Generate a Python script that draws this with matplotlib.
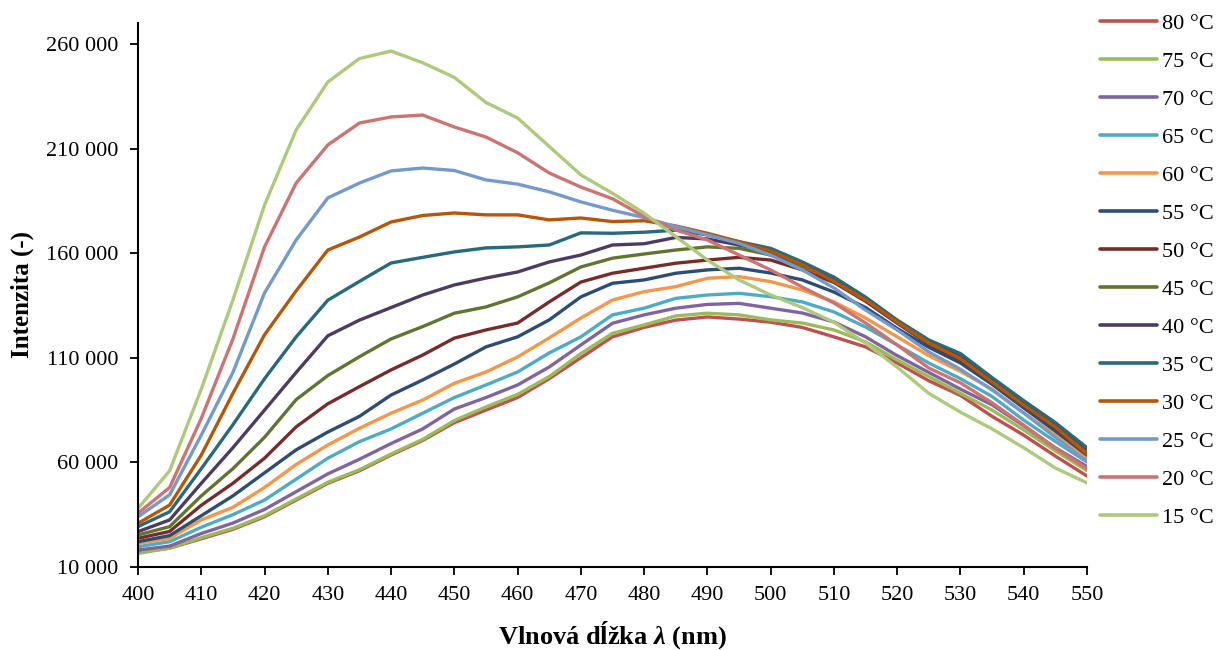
import matplotlib
matplotlib.use("Agg")
import matplotlib.pyplot as plt
from matplotlib.ticker import FuncFormatter, MultipleLocator

plt.rcParams['font.family'] = ['Liberation Serif', 'DejaVu Serif']
plt.rcParams['mathtext.fontset'] = 'custom'
plt.rcParams['mathtext.rm'] = 'Liberation Serif:bold'
plt.rcParams['mathtext.it'] = 'Liberation Serif:bold:italic'
plt.rcParams['mathtext.bf'] = 'Liberation Serif:bold'

wavelength = list(range(400, 551, 5))

labels = ["80 °C", "75 °C", "70 °C", "65 °C", "60 °C", "55 °C", "50 °C",
          "45 °C", "40 °C", "35 °C", "30 °C", "25 °C", "20 °C", "15 °C"]

colors = ["#C0504D", "#9BBB59", "#8064A2", "#4BACC6", "#F79646", "#2C4D75", "#772C2A",
          "#5F7530", "#4D3B62", "#276A7C", "#B65708", "#729ACA", "#CD7371", "#AFC97A"]

t80 = [17000, 19000, 23500, 28000, 34000, 42000, 50000, 56000, 63500, 70500, 79000,
       85000, 91000, 100000, 110000, 120000, 124500, 128000, 129500, 128500, 127000,
       124500, 120000, 115200, 107500, 99000, 92000, 82000, 73000, 63000, 53500]
t75 = [16500, 19000, 24000, 28500, 34500, 42500, 50500, 56500, 64000, 71000, 80000,
       86500, 92500, 101000, 112000, 121700, 125700, 130000, 131300, 130500, 128100,
       126600, 123300, 117600, 108900, 101000, 93000, 85000, 75500, 65500, 56000]
t70 = [18100, 20000, 26000, 31000, 37500, 46000, 54500, 61500, 69000, 76000, 85500,
       91000, 97000, 105600, 116100, 126500, 130500, 133700, 135500, 136000, 133700,
       131400, 127100, 120000, 111000, 103000, 95000, 87500, 77500, 67000, 58000]
t65 = [19700, 22100, 29000, 35000, 42000, 52000, 62000, 69900, 76000, 83500, 91000,
       97000, 103200, 112300, 120000, 130500, 133700, 138400, 140000, 140800, 139200,
       136700, 131900, 124700, 116100, 107500, 100000, 91500, 80200, 70000, 60200]
t60 = [21300, 23700, 32500, 38500, 48000, 59000, 68300, 76300, 83500, 89800, 97800,
       103200, 110400, 119500, 129000, 137600, 141600, 144000, 148000, 148800, 146400,
       142400, 136700, 129000, 120000, 111000, 103500, 95000, 83600, 73300, 62300]
t55 = [22100, 25000, 34500, 44000, 55000, 66000, 74500, 82000, 92200, 99400, 107000,
       115200, 120000, 128100, 139100, 145600, 147200, 150400, 152000, 152800, 150500,
       147200, 141400, 134000, 124000, 115000, 107500, 97300, 86000, 75000, 63500]
t50 = [23700, 27000, 39500, 50000, 62000, 77000, 88000, 96200, 104200, 111300, 119400,
       123300, 126600, 136700, 146200, 150400, 152800, 155200, 156700, 158000, 156700,
       152000, 146000, 137000, 126500, 116500, 109000, 98500, 87400, 76500, 64500]
t45 = [25300, 29300, 44000, 57000, 72000, 90000, 101500, 110500, 119000, 124900, 131300,
       134300, 139100, 145800, 153400, 157600, 159600, 161500, 163000, 162300, 159100,
       153400, 148500, 138500, 127000, 117000, 110500, 99500, 88800, 77500, 65000]
t40 = [26900, 32500, 50000, 67000, 85000, 103000, 120500, 128000, 134000, 140000, 144800,
       148100, 151000, 155800, 159100, 163900, 164500, 167500, 166800, 163900, 160700,
       154500, 148000, 138500, 127500, 118000, 111500, 100000, 89000, 78500, 66500]
t35 = [29300, 36400, 57000, 78000, 100000, 120000, 137500, 146500, 155300, 158000, 160600,
       162500, 163000, 163900, 169700, 169500, 170000, 171000, 168700, 165500, 162300,
       155800, 148500, 139000, 128000, 118500, 112000, 100500, 89500, 79000, 67000]
t30 = [30900, 39600, 63500, 93000, 121000, 142000, 161500, 167700, 174900, 178000, 179200,
       178300, 178300, 175900, 176800, 175100, 175500, 173000, 169500, 165500, 161000,
       154400, 146500, 137600, 127100, 117100, 109500, 98400, 87400, 76900, 64000]
t25 = [34000, 44500, 73000, 103000, 141000, 166300, 186400, 193500, 199300, 200700, 199500,
       195000, 193000, 189300, 184500, 180500, 177000, 172700, 168700, 164700, 159000,
       152000, 143400, 132800, 123300, 112800, 104500, 94600, 83600, 72000, 60500]
t20 = [35700, 48000, 81000, 119000, 163000, 193500, 211700, 222200, 225100, 226000, 220300,
       215500, 208000, 198300, 191600, 186000, 177500, 171100, 166300, 159100, 152000,
       143800, 136200, 126600, 116100, 105100, 98000, 88500, 77800, 66800, 57000]
t15 = [38000, 56000, 95000, 137600, 183000, 218900, 241800, 253000, 256600, 251000, 244000,
       232000, 224600, 211000, 197400, 188600, 179100, 167900, 156700, 147200, 140000,
       134000, 127000, 117000, 105500, 93000, 84000, 76000, 67000, 57300, 50200]

series = [t80, t75, t70, t65, t60, t55, t50, t45, t40, t35, t30, t25, t20, t15]

fig = plt.figure(figsize=(12.16, 6.5), dpi=100)
ax = fig.add_axes([138 / 1216, 1 - 567 / 650, (1087 - 138) / 1216, (567 - 23) / 650])

for vals, lab, col in zip(series, labels, colors):
    ax.plot(wavelength, vals, color=col, lw=2.4, label=lab, solid_capstyle='round')

ax.set_xlim(400, 550)
ax.set_ylim(10000, 270000)
ax.xaxis.set_major_locator(MultipleLocator(10))
ax.set_yticks([10000, 60000, 110000, 160000, 210000, 260000])
ax.yaxis.set_major_formatter(FuncFormatter(lambda v, p: f"{int(v):,}".replace(",", " ")))

for s in ['top', 'right']:
    ax.spines[s].set_visible(False)
for s in ['left', 'bottom']:
    ax.spines[s].set_linewidth(1.5)
    ax.spines[s].set_color('black')
ax.tick_params(axis='both', direction='out', length=6, width=1.3, labelsize=16, colors='black')
ax.tick_params(axis='x', pad=8)
ax.tick_params(axis='y', pad=8)

ax.set_xlabel(r"Vlnová dĺžka $\lambda$ (nm)", fontsize=19, fontweight='bold', labelpad=10)
ax.set_ylabel("Intenzita (-)", fontsize=18, fontweight='bold', labelpad=8.5)

leg = fig.legend(loc='upper left', bbox_to_anchor=(1100 / 1216, 1 - 13 / 650), frameon=False,
                 fontsize=16, handlelength=2.55, handletextpad=0.25, labelspacing=0.785,
                 borderaxespad=0, borderpad=0)
for h in leg.get_lines():
    h.set_linewidth(2.6)

fig.savefig("out.png", dpi=100)
